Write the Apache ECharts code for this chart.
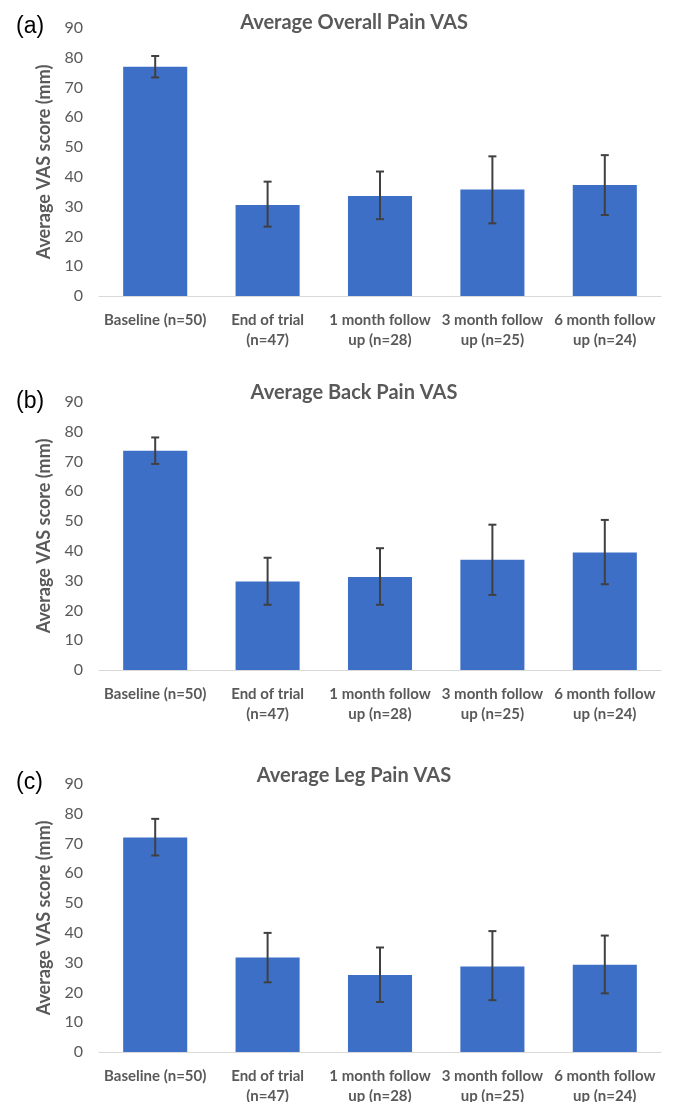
<!DOCTYPE html>
<html>
<head>
<meta charset="utf-8">
<script src="https://cdn.jsdelivr.net/npm/echarts@6/dist/echarts.min.js"></script>
<style>
  html, body { margin: 0; padding: 0; background: #fff; }
  #main { width: 673px; height: 1102px; }
</style>
</head>
<body>
<div id="main"></div>
<script>
var categories = ['Baseline (n=50)', 'End of trial\n(n=47)', '1 month follow\nup (n=28)', '3 month follow\nup (n=25)', '6 month follow\nup (n=24)'];

var overallMean = [77.0, 30.6, 33.6, 35.8, 37.3];
var overallLow  = [73.4, 23.3, 25.8, 24.4, 27.2];
var overallHigh = [80.6, 38.4, 41.8, 46.9, 47.3];

var backMean = [73.6, 29.7, 31.2, 37.0, 39.5];
var backLow  = [69.2, 21.9, 21.9, 25.2, 28.8];
var backHigh = [78.1, 37.7, 40.9, 48.8, 50.4];

var legMean = [72.0, 31.7, 25.9, 28.7, 29.3];
var legLow  = [66.0, 23.4, 16.8, 17.4, 19.7];
var legHigh = [78.3, 40.0, 35.1, 40.6, 39.1];

var panelTitles = ['Average Overall Pain VAS', 'Average Back Pain VAS', 'Average Leg Pain VAS'];
var panelLetters = ['(a)', '(b)', '(c)'];
var yName = 'Average VAS score (mm)';

var panels = [
    {mean: overallMean, low: overallLow, high: overallHigh, top: 28, titleTop: 8, letterTop: 10},
    {mean: backMean, low: backLow, high: backHigh, top: 402, titleTop: 378, letterTop: 385},
    {mean: legMean, low: legLow, high: legHigh, top: 784, titleTop: 761, letterTop: 766}
];

var grey = '#595959';
var font = 'Lato, "Liberation Sans", sans-serif';

function renderErr(params, api) {
    var x = api.value(0);
    var lo = api.coord([x, api.value(1)]);
    var hi = api.coord([x, api.value(2)]);
    var w = 4;
    var st = {stroke: '#404040', lineWidth: 2};
    return {
        type: 'group',
        children: [
            {type: 'line', shape: {x1: hi[0], y1: hi[1], x2: lo[0], y2: lo[1]}, style: st},
            {type: 'line', shape: {x1: hi[0] - w, y1: hi[1], x2: hi[0] + w, y2: hi[1]}, style: st},
            {type: 'line', shape: {x1: lo[0] - w, y1: lo[1], x2: lo[0] + w, y2: lo[1]}, style: st}
        ]
    };
}

var titles = [], grids = [], xAxes = [], yAxes = [], series = [];
panels.forEach(function (p, i) {
    titles.push({
        text: panelTitles[i], left: 349, top: p.titleTop, textAlign: 'center',
        textStyle: {color: grey, fontSize: 20, fontWeight: 'bold', fontFamily: font}
    });
    titles.push({
        text: panelLetters[i], left: 11, top: p.letterTop,
        textStyle: {color: '#000', fontSize: 23, fontWeight: 'normal', fontFamily: '"Liberation Sans", Arial, sans-serif'}
    });
    grids.push({left: 99, right: 12, top: p.top, height: 268, outerBoundsMode: 'none'});
    xAxes.push({
        type: 'category', gridIndex: i, data: categories,
        axisTick: {show: false},
        axisLine: {lineStyle: {color: '#d9d9d9', width: 1}},
        axisLabel: {interval: 0, margin: 14, color: grey, fontSize: 15, fontWeight: 'bold', lineHeight: 20, fontFamily: font}
    });
    yAxes.push({
        type: 'value', gridIndex: i, min: 0, max: 90, interval: 10,
        splitLine: {show: false},
        axisLine: {show: false}, axisTick: {show: false},
        axisLabel: {margin: 16, color: grey, fontSize: 16, fontFamily: font},
        name: yName, nameLocation: 'middle', nameRotate: 90, nameGap: 45,
        nameTextStyle: {color: grey, fontSize: 18, fontWeight: 'bold', fontFamily: font}
    });
    series.push({
        type: 'bar', xAxisIndex: i, yAxisIndex: i, data: p.mean,
        barWidth: '57%', itemStyle: {color: '#3D6FC7'}, animation: false
    });
    series.push({
        type: 'custom', xAxisIndex: i, yAxisIndex: i, renderItem: renderErr,
        encode: {x: 0, y: [1, 2]}, z: 10, animation: false,
        data: p.mean.map(function (v, k) { return [k, p.low[k], p.high[k]]; })
    });
});

var chart = echarts.init(document.getElementById('main'));
chart.setOption({
    animation: false,
    title: titles,
    grid: grids,
    xAxis: xAxes,
    yAxis: yAxes,
    series: series
});
</script>
</body>
</html>
